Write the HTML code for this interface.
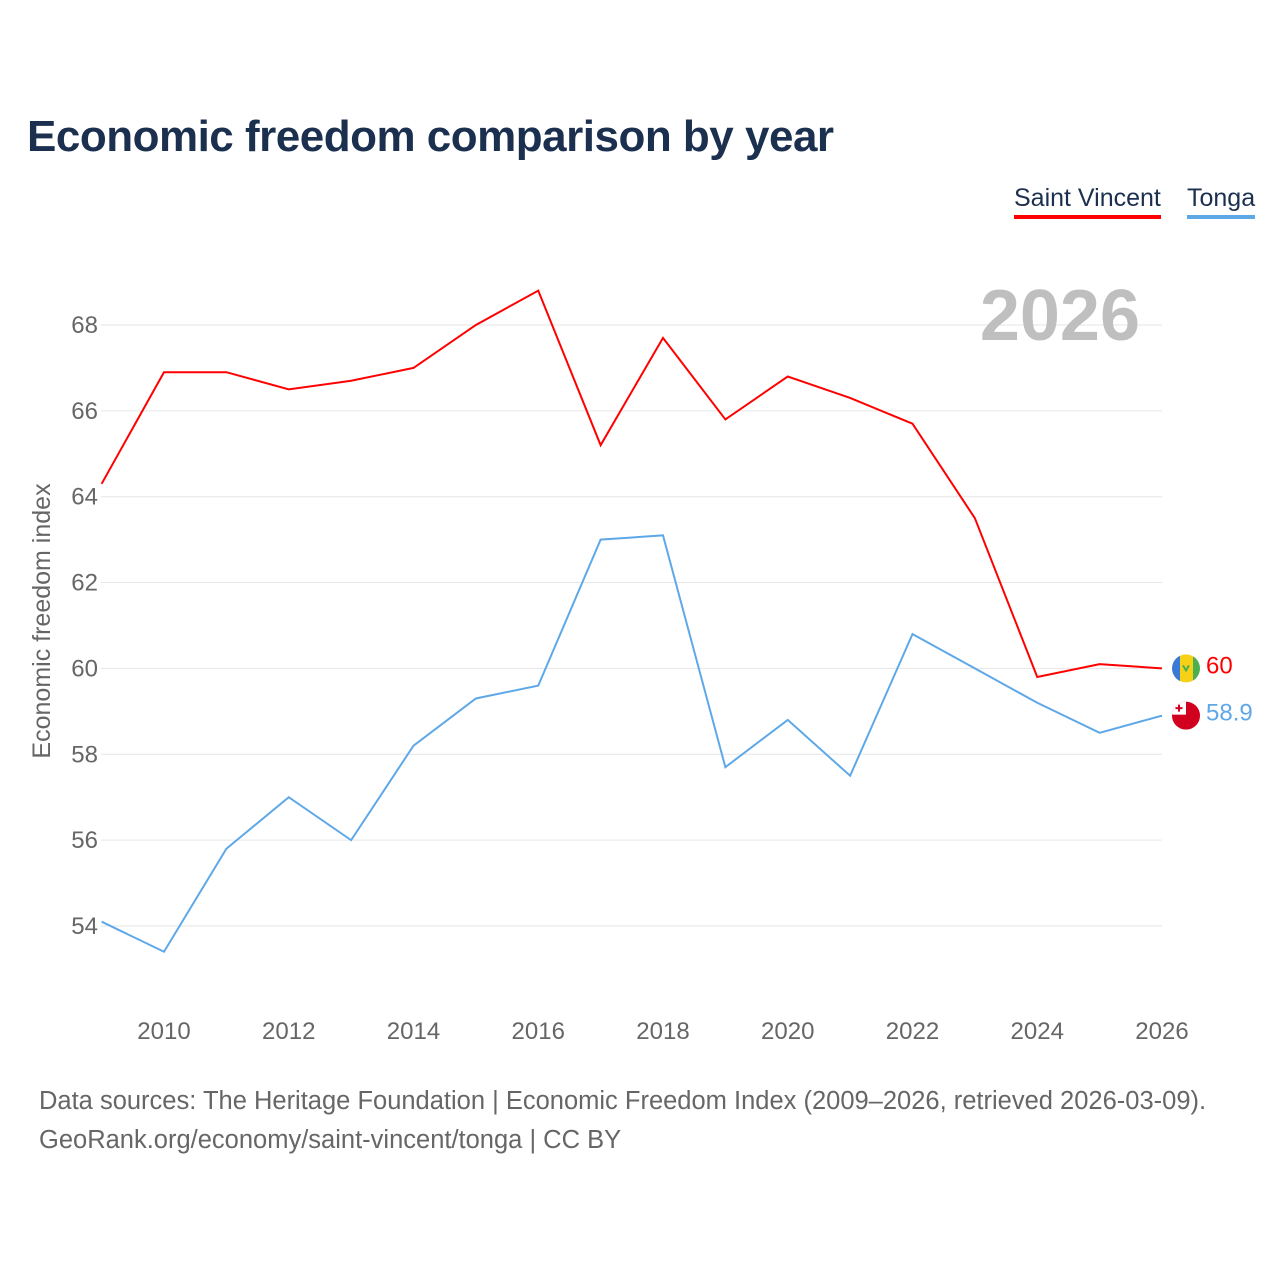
<!DOCTYPE html>
<html><head><meta charset="utf-8">
<style>
body{margin:0;background:#fff;font-family:"Liberation Sans",sans-serif;}
#wrap{position:relative;width:1280px;height:1280px;overflow:hidden;}
h1{position:absolute;left:27px;top:112px;margin:0;font-size:44px;font-weight:bold;color:#1b2f4f;letter-spacing:-0.5px;}
.leg{position:absolute;top:184px;font-size:25px;color:#1b2f4f;padding-bottom:2px;}
.src{position:absolute;left:39px;font-size:25.5px;color:#666;letter-spacing:0;}
</style></head><body>
<div id="wrap">
<h1>Economic freedom comparison by year</h1>
<div class="leg" style="left:1014px;border-bottom:4px solid #f00">Saint Vincent</div>
<div class="leg" style="left:1187px;border-bottom:4px solid #5fa8e8">Tonga</div>
<svg id="chart" width="1280" height="1280" style="position:absolute;left:0;top:0"></svg>
<div class="src" style="top:1087px">Data sources: The Heritage Foundation | Economic Freedom Index (2009–2026, retrieved 2026-03-09).</div>
<div class="src" style="top:1126px">GeoRank.org/economy/saint-vincent/tonga | CC BY</div>
</div>
<script>
const years=[2009,2010,2011,2012,2013,2014,2015,2016,2017,2018,2019,2020,2021,2022,2023,2024,2025,2026];
const stVincent=[64.3,66.9,66.9,66.5,66.7,67.0,68.0,68.8,65.2,67.7,65.8,66.8,66.3,65.7,63.5,59.8,60.1,60.0];
const tonga=[54.1,53.4,55.8,57.0,56.0,58.2,59.3,59.6,63.0,63.1,57.7,58.8,57.5,60.8,60.0,59.2,58.5,58.9];
const yTicks=[54,56,58,60,62,64,66,68];
const xTicks=[2010,2012,2014,2016,2018,2020,2022,2024,2026];
const NS="http://www.w3.org/2000/svg";
const svg=document.getElementById('chart');
const x=v=>164+(v-2010)*62.375;
const y=v=>926-(v-54)*42.93;
function mk(t,a,txt,parent){const e=document.createElementNS(NS,t);for(const k in a)e.setAttribute(k,a[k]);if(txt!==undefined&&txt!==null)e.textContent=txt;(parent||svg).appendChild(e);return e;}
yTicks.forEach(t=>{
 const g=mk('line',{x1:101,x2:1162,y1:y(t),y2:y(t),stroke:'#e6e6e6','stroke-width':1});
 
 
 const l=mk('text',{x:98,y:y(t)+8,'text-anchor':'end','font-size':24,fill:'#666','font-family':'Liberation Sans'},t);
 
 
});
xTicks.forEach(t=>{
 const l=mk('text',{x:x(t),y:1039,'text-anchor':'middle','font-size':24,fill:'#666','font-family':'Liberation Sans'},t);
 
 
});
const yt=mk('text',{x:0,y:0,transform:'translate(50,621) rotate(-90)','text-anchor':'middle','font-size':25,fill:'#666','font-family':'Liberation Sans'},'Economic freedom index');


const yr=mk('text',{x:1140,y:340,'text-anchor':'end','font-size':72,'font-weight':'bold',fill:'#bfbfbf','font-family':'Liberation Sans'},'2026');


function line(data,color,name){
 const p=mk('polyline',{points:data.map((v,i)=>x(years[i])+','+y(v)).join(' '),fill:'none',stroke:color,'stroke-width':2});
 
 
}
line(stVincent,'#f00','line-saint-vincent');
line(tonga,'#5fa8e8','line-tonga');
const lv=stVincent[stVincent.length-1], lt=tonga[tonga.length-1];
const defs=mk('defs',{});
const cp1=mk('clipPath',{id:'c1'},null,defs);mk('circle',{cx:1186,cy:y(lv),r:14},null,cp1);
const cp2=mk('clipPath',{id:'c2'},null,defs);mk('circle',{cx:1186,cy:y(lt),r:14},null,cp2);
const f1=mk('g',{'clip-path':'url(#c1)'});


mk('rect',{x:1172,y:y(lv)-14,width:8,height:28,fill:'#3a79d6'},null,f1);
mk('rect',{x:1180,y:y(lv)-14,width:13,height:28,fill:'#f7d116'},null,f1);
mk('rect',{x:1193,y:y(lv)-14,width:8,height:28,fill:'#4caf50'},null,f1);
mk('path',{d:`M1183 ${y(lv)-3} l3 5 l3 -5 l-3 5 z`,stroke:'#4caf50','stroke-width':2,fill:'none'},null,f1);
const f2=mk('g',{'clip-path':'url(#c2)'});


mk('rect',{x:1172,y:y(lt)-14,width:28,height:28,fill:'#d2001f'},null,f2);
mk('rect',{x:1172,y:y(lt)-14,width:14,height:13,fill:'#fff'},null,f2);
mk('path',{d:`M1179 ${y(lt)-11} v7 M1175.5 ${y(lt)-7.5} h7`,stroke:'#d2001f','stroke-width':2},null,f2);
let t1=mk('text',{x:1206,y:y(lv)+5,'font-size':24,fill:'#f00','font-family':'Liberation Sans'},String(lv));


let t2=mk('text',{x:1206,y:y(lt)+5,'font-size':24,fill:'#5fa8e8','font-family':'Liberation Sans'},String(lt));


</script>
</body></html>
